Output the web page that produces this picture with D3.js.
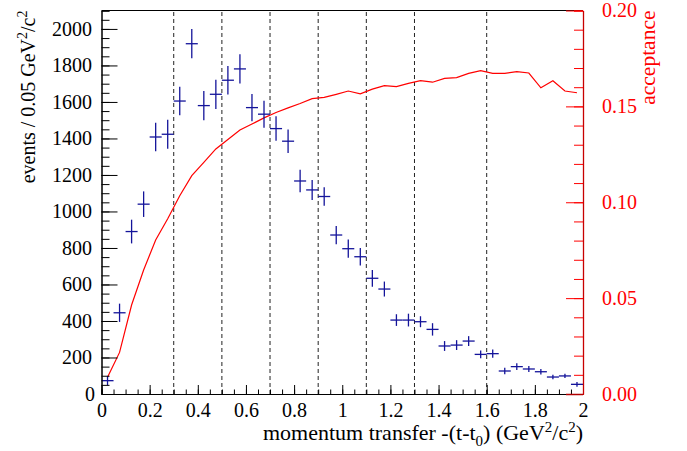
<!DOCTYPE html>
<html>
<head>
<meta charset="utf-8">
<script src="https://cdn.jsdelivr.net/npm/d3@7.9.0/dist/d3.min.js"></script>
<style>
  body { margin: 0; background: #fff; }
  svg { display: block; }
  svg text { font-family: "Liberation Serif", Tinos, "Times New Roman", Times, "DejaVu Serif", serif; }
</style>
</head>
<body>
<svg id="chart" width="687" height="451"></svg>
<script>
// bin centres of -(t-t0), 0.05 GeV^2/c^2 bins
const tBins = [0.025, 0.075, 0.125, 0.175, 0.225, 0.275, 0.325, 0.375, 0.425, 0.475,
  0.525, 0.575, 0.625, 0.675, 0.725, 0.775, 0.825, 0.875, 0.925, 0.975,
  1.025, 1.075, 1.125, 1.175, 1.225, 1.275, 1.325, 1.375, 1.425, 1.475,
  1.525, 1.575, 1.625, 1.675, 1.725, 1.775, 1.825, 1.875, 1.925, 1.975];

const events = [73, 445, 890, 1040, 1408, 1423, 1605, 1919, 1580, 1642,
  1719, 1781, 1569, 1533, 1454, 1385, 1167, 1118, 1082, 871,
  796, 752, 634, 575, 405, 405, 396, 354, 263, 268,
  290, 217, 221, 126, 150, 137, 122, 93, 99, 53];

const eventErrors = [25, 50, 65, 70, 78, 80, 78, 80, 80, 80,
  78, 80, 75, 74, 67, 64, 62, 55, 50, 50,
  50, 48, 46, 41, 32, 35, 30, 34, 27, 27,
  27, 21, 23, 18, 19, 16, 15, 12, 12, 13];

const acceptance = [0.0087, 0.0217, 0.0464, 0.0647, 0.0803, 0.0914, 0.1034, 0.1139, 0.1208, 0.1278,
  0.1327, 0.1377, 0.1408, 0.1440, 0.1468, 0.1492, 0.1515, 0.1540, 0.1547, 0.1563,
  0.1580, 0.1565, 0.1590, 0.1608, 0.1603, 0.1620, 0.1634, 0.1626, 0.1646, 0.1650,
  0.1672, 0.1686, 0.1672, 0.1672, 0.1681, 0.1674, 0.1597, 0.1634, 0.1580, 0.1571];

const cuts = [0.3, 0.5, 0.7, 0.9, 1.1, 1.3, 1.6];

const xTicks = [0, 0.2, 0.4, 0.6, 0.8, 1, 1.2, 1.4, 1.6, 1.8, 2];
const yTicks = [0, 200, 400, 600, 800, 1000, 1200, 1400, 1600, 1800, 2000];
const accTicks = [0, 0.05, 0.1, 0.15, 0.2];

const binHalf = 0.025;
const plotLeft = 101.5, plotRight = 583, plotTop = 10.5, plotBottom = 394;

const svg = d3.select('#chart');
const x = d3.scaleLinear().domain([0, 2]).range([plotLeft, plotRight]);
const y = d3.scaleLinear().domain([0, 2101]).range([plotBottom, plotTop]);
const yAcc = d3.scaleLinear().domain([0, 0.2]).range([plotBottom, plotTop]);

const fontSize = 20;
const titleSize = 22;
const supSize = 15;
const red = '#ff0000';
const blue = '#14149a';

// dashed cut lines
svg.append('g')
  .selectAll('line')
  .data(cuts)
  .join('line')
  .attr('x1', (d) => x(d)).attr('x2', (d) => x(d))
  .attr('y1', plotBottom).attr('y2', plotTop)
  .attr('stroke', '#222')
  .attr('stroke-width', 1)
  .attr('stroke-dasharray', '4,3');

// acceptance curve
let line = d3.line()
  .x((d, i) => x(tBins[i]))
  .y((d) => yAcc(d));
svg.append('path')
  .attr('d', line(acceptance))
  .attr('fill', 'none')
  .attr('stroke', red)
  .attr('stroke-width', 1.2);

// event crosses
let pts = svg.append('g').attr('stroke', blue).attr('stroke-width', 1.3);
tBins.forEach((t, i) => {
  pts.append('line')
    .attr('x1', x(t - binHalf)).attr('x2', x(t + binHalf))
    .attr('y1', y(events[i])).attr('y2', y(events[i]));
  pts.append('line')
    .attr('x1', x(t)).attr('x2', x(t))
    .attr('y1', y(events[i] - eventErrors[i])).attr('y2', y(events[i] + eventErrors[i]));
});

// minor tick values
let xMinor = d3.range(0, 41).map((i) => i * 0.05);
let yMinor = d3.range(0, 43).map((i) => i * 50);
let accMinor = d3.range(0, 21).map((i) => i * 0.01);

function styleAxis(g, color) {
  g.attr('font-family', null).attr('font-size', null);
  g.selectAll('line').attr('stroke', color);
  g.selectAll('path').attr('stroke', color);
  g.selectAll('text').attr('fill', color)
    .style('font-size', fontSize + 'px');
}

// bottom axis
svg.append('g')
  .attr('transform', `translate(0,${plotBottom})`)
  .call(d3.axisBottom(x).tickValues(xMinor).tickSize(-4.5).tickFormat(''))
  .call((g) => styleAxis(g, '#000'));
svg.append('g')
  .attr('transform', `translate(0,${plotBottom})`)
  .call(d3.axisBottom(x).tickValues(xTicks).tickSizeInner(-9).tickSizeOuter(0).tickPadding(8.5)
    .tickFormat((d) => d3.format('~g')(d)))
  .call((g) => styleAxis(g, '#000'));

// left axis
svg.append('g')
  .attr('transform', `translate(${plotLeft},0)`)
  .call(d3.axisLeft(y).tickValues(yMinor).tickSize(-8).tickFormat(''))
  .call((g) => styleAxis(g, '#000'));
let yAxisG = svg.append('g')
  .attr('transform', `translate(${plotLeft},0)`)
  .call(d3.axisLeft(y).tickValues(yTicks).tickSizeInner(-16).tickSizeOuter(0).tickPadding(9.5)
    .tickFormat(d3.format('d')))
  .call((g) => styleAxis(g, '#000'));
yAxisG.selectAll('.tick').filter((d) => d === 0).select('text').attr('x', -6.5);

// top frame
svg.append('line')
  .attr('x1', plotLeft).attr('x2', plotRight)
  .attr('y1', plotTop).attr('y2', plotTop)
  .attr('stroke', '#000').attr('stroke-width', 1);

// right acceptance axis
svg.append('g')
  .attr('transform', `translate(${plotRight},0)`)
  .call(d3.axisRight(yAcc).tickValues(accMinor).tickSize(-9).tickFormat(''))
  .call((g) => styleAxis(g, red));
let accAxisG = svg.append('g')
  .attr('transform', `translate(${plotRight},0)`)
  .call(d3.axisRight(yAcc).tickValues(accTicks).tickSizeInner(-17).tickSizeOuter(0).tickPadding(19)
    .tickFormat(d3.format('.2f')))
  .call((g) => styleAxis(g, red));
accAxisG.select('.domain').attr('stroke', '#c80000').attr('stroke-width', 1.3);
accAxisG.selectAll('.tick').filter((d) => d === 0).select('line').attr('stroke', '#b00000').attr('stroke-width', 1.5);

// axis titles
let xTitle = svg.append('text')
  .attr('x', plotRight).attr('y', 440)
  .attr('text-anchor', 'end')
  .style('font-size', titleSize + 'px');
xTitle.append('tspan').text('momentum transfer -(t-t');
xTitle.append('tspan').attr('dy', 6).style('font-size', supSize + 'px').text('0');
xTitle.append('tspan').attr('dy', -6).text(') (GeV');
xTitle.append('tspan').attr('dy', -8).style('font-size', supSize + 'px').text('2');
xTitle.append('tspan').attr('dy', 8).text('/c');
xTitle.append('tspan').attr('dy', -8).style('font-size', supSize + 'px').text('2');
xTitle.append('tspan').attr('dy', 8).text(')');

let yTitle = svg.append('text')
  .attr('transform', `translate(35,${plotTop}) rotate(-90)`)
  .attr('text-anchor', 'end')
  .style('font-size', fontSize + 'px');
yTitle.append('tspan').text('events / 0.05 GeV');
yTitle.append('tspan').attr('dy', -8).style('font-size', '14px').text('2');
yTitle.append('tspan').attr('dy', 8).text('/c');
yTitle.append('tspan').attr('dy', -8).style('font-size', '14px').text('2');

svg.append('text')
  .attr('transform', `translate(655,${plotTop}) rotate(-90)`)
  .attr('text-anchor', 'end')
  .attr('fill', red)
  .style('font-size', '21.5px')
  .text('acceptance');
</script>
</body>
</html>
